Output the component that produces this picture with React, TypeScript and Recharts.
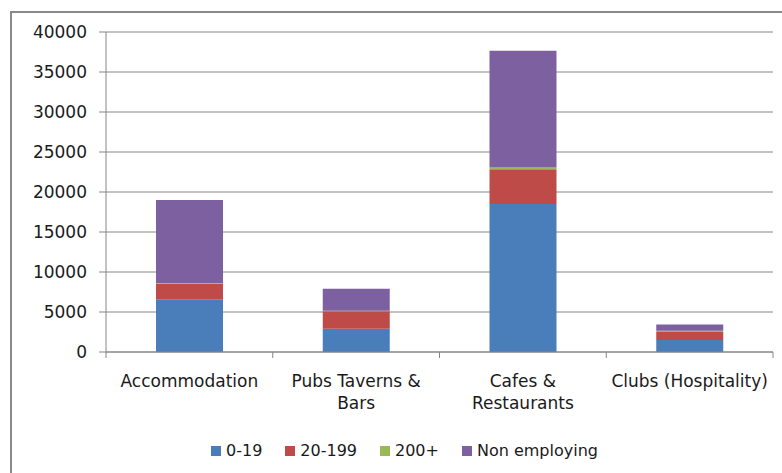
import { BarChart, Bar, XAxis, YAxis, CartesianGrid, Legend } from 'recharts'

const categories = ['Accommodation', 'Pubs Taverns & Bars', 'Cafes & Restaurants', 'Clubs (Hospitality)']
const tickLines = [['Accommodation'], ['Pubs Taverns &', 'Bars'], ['Cafes &', 'Restaurants'], ['Clubs (Hospitality)']]
const small = [6600, 2900, 18500, 1500]
const medium = [1950, 2200, 4350, 1000]
const large = [60, 50, 200, 150]
const nonEmploying = [10400, 2750, 14600, 800]
const yTicks = [0, 5000, 10000, 15000, 20000, 25000, 30000, 35000, 40000]

const series = [
  { key: 'small', name: '0-19', color: '#4A7EBB' },
  { key: 'medium', name: '20-199', color: '#BE4B48' },
  { key: 'large', name: '200+', color: '#98B954' },
  { key: 'nonEmploying', name: 'Non employing', color: '#7D60A0' },
]

const data = categories.map((name, i) => ({
  name,
  small: small[i],
  medium: medium[i],
  large: large[i],
  nonEmploying: nonEmploying[i],
}))

const FONT = '"DejaVu Sans", sans-serif'
const AXIS = '#868686'

const CategoryTick = ({ x, y, payload, index }: any) => {
  const off = payload.offset || 0
  const lines = tickLines[index] || [payload.value]
  return (
    <g>
      <line x1={x - off} x2={x - off} y1={y} y2={y + 6} stroke={AXIS} />
      {index === categories.length - 1 && (
        <line x1={x + off} x2={x + off} y1={y} y2={y + 6} stroke={AXIS} />
      )}
      <text x={x} y={y + 35} textAnchor="middle" fill="#1a1a1a" fontSize={17} fontFamily={FONT}>
        {lines.map((l: string, j: number) => (
          <tspan key={j} x={x} dy={j === 0 ? 0 : 22}>{l}</tspan>
        ))}
      </text>
    </g>
  )
}

const LegendContent = () => (
  <div style={{ display: 'flex', alignItems: 'center', fontFamily: FONT, fontSize: 16, color: '#1a1a1a', lineHeight: '22px' }}>
    {series.map(s => (
      <div key={s.key} style={{ display: 'flex', alignItems: 'center', marginRight: 23 }}>
        <span style={{ width: 10, height: 10, background: s.color, display: 'inline-block', marginRight: 5 }} />
        <span>{s.name}</span>
      </div>
    ))}
  </div>
)

export default function App() {
  return (
    <div style={{ position: 'absolute', left: 0, top: 0, width: 782, height: 473, overflow: 'hidden', background: '#fff' }}>
      <div style={{ position: 'absolute', left: 10, top: 11, width: 800, height: 500, border: '2px solid #898989' }} />
      <div style={{ position: 'absolute', left: 0, top: 0 }}>
        <BarChart width={782} height={473} data={data} margin={{ top: 32, right: 9, bottom: 11, left: 0 }} barSize={67}>
          <CartesianGrid vertical={false} stroke={AXIS} strokeDasharray="" />
          <XAxis
            dataKey="name"
            stroke={AXIS}
            tickLine={false}
            tickSize={0}
            tickMargin={0}
            height={88}
            interval={0}
            tick={<CategoryTick />}
          />
          <YAxis
            domain={[0, 40000]}
            ticks={yTicks}
            width={106}
            stroke={AXIS}
            tickSize={7}
            tickMargin={12}
            interval={0}
            tick={{ fill: '#1a1a1a', fontSize: 17, fontFamily: FONT }}
          />
          <Legend verticalAlign="bottom" height={22} wrapperStyle={{ left: 211, width: 'auto', bottom: 11 }} content={<LegendContent />} />
          {series.map(s => (
            <Bar key={s.key} dataKey={s.key} name={s.name} stackId="a" fill={s.color} isAnimationActive={false} />
          ))}
        </BarChart>
      </div>
    </div>
  )
}
